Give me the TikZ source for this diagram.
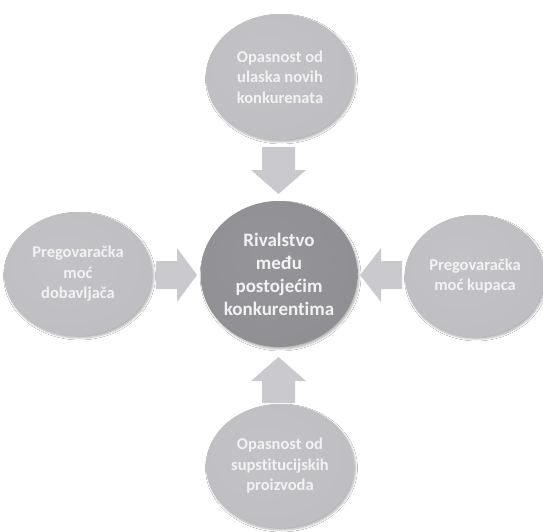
\documentclass[tikz,border=0pt]{standalone}
\usepackage{fontspec}
\setmainfont[Ligatures=NoCommon]{Carlito}
\usetikzlibrary{shapes.geometric,shadows.blur}
\definecolor{arrowfill}{HTML}{CACACE}
\definecolor{txt}{HTML}{F2F2F2}
\pgfdeclareradialshading{outerrim}{\pgfpoint{-6bp}{6bp}}{rgb(0bp)=(0.765,0.765,0.78); rgb(36bp)=(0.745,0.745,0.76); rgb(46bp)=(0.72,0.72,0.735); rgb(50bp)=(0.66,0.66,0.675); rgb(100bp)=(0.66,0.66,0.675)}
\pgfdeclareradialshading{corerim}{\pgfpoint{-6bp}{6bp}}{rgb(0bp)=(0.585,0.585,0.6); rgb(36bp)=(0.56,0.56,0.575); rgb(46bp)=(0.53,0.53,0.545); rgb(50bp)=(0.47,0.47,0.485); rgb(100bp)=(0.47,0.47,0.485)}
\tikzset{
  force/.style={ellipse, inner sep=0pt, shading=outerrim, draw=none,
    text=txt, font=\bfseries\fontsize{16.5}{20.5}\selectfont, align=center,
    blur shadow={shadow xshift=1.5pt, shadow yshift=-2pt, shadow blur steps=6, shadow opacity=30}},
  core/.style={force, shading=corerim, font=\bfseries\fontsize{19}{23}\selectfont},
  bigarrow/.style={fill=arrowfill, draw=none},
}
\begin{document}
\begin{tikzpicture}[x=1pt,y=-1pt]
\useasboundingbox (0,0) rectangle (543,532);
\fill[white] (0,0) rectangle (543,532);
\node[force, minimum width=148pt, minimum height=126pt] (top) at (280,77) {Opasnost od\\ulaska novih\\konkurenata};
\node[force, minimum width=148pt, minimum height=124pt] (left) at (78,274) {Pregovaračka\\moć\\dobavljača};
\node[force, minimum width=140pt, minimum height=122pt] (right) at (475,276) {Pregovaračka\\moć kupaca};
\node[force, minimum width=148pt, minimum height=124pt] (bottom) at (280,466) {Opasnost od\\supstitucijskih\\proizvoda};
\node[core, minimum width=157pt, minimum height=146pt] (center) at (279,274) {Rivalstvo\\među\\postojećim\\konkurentima};
% arrows
\fill[bigarrow] (262,147) -- (295,147) -- (295,170) -- (306,170) -- (278.5,194) -- (251,170) -- (262,170) -- cycle;
\fill[bigarrow] (262,403) -- (295,403) -- (295,381) -- (306,381) -- (278.5,357) -- (251,381) -- (262,381) -- cycle;
\fill[bigarrow] (156,261) -- (177,261) -- (177,248) -- (197,275) -- (177,302) -- (177,289) -- (156,289) -- cycle;
\fill[bigarrow] (402,261) -- (381,261) -- (381,248) -- (360,275) -- (381,302) -- (381,289) -- (402,289) -- cycle;
\end{tikzpicture}
\end{document}
